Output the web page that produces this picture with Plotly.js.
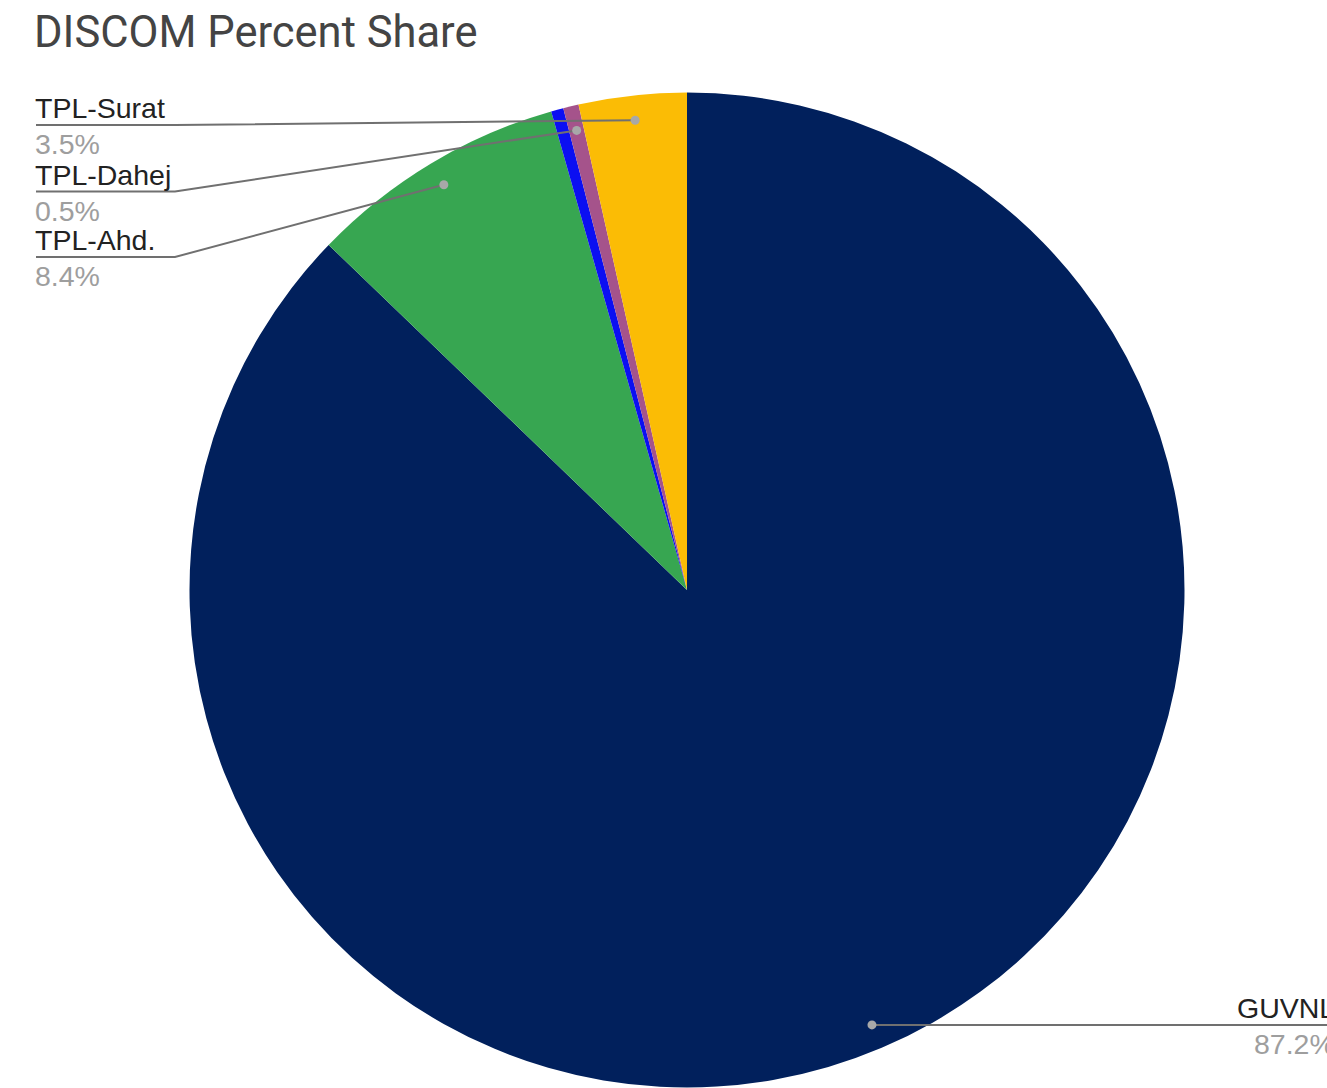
<!DOCTYPE html>
<html>
<head>
<meta charset="utf-8">
<script src="https://cdn.plot.ly/plotly-3.0.1.min.js"></script>
<style>html,body{margin:0;padding:0;background:#fff;}#chart{width:1327px;height:1088px;}</style>
</head>
<body>
<div id="chart"></div>
<script>
// ---- data ----
var labels = ["GUVNL", "TPL-Ahd.", "Others", "TPL-Dahej", "TPL-Surat"];
var values = [87.2, 8.4, 0.4, 0.5, 3.5];
var colors = ["#01205c", "#37a651", "#0b0ff2", "#a5538b", "#fbbc05"];
var showLabel = [true, true, false, true, true];

// ---- layout constants (pixels) ----
var W = 1327, H = 1088;
var cx = 687, cy = 590, R = 497.5;
var leftX = 36, leftKnee = 175;
var leftLineY = [125, 191.5, 257];   // stacked left labels, top to bottom
var rightTextX = 1337;

function px(x){ return x / W; }
function py(y){ return 1 - y / H; }

var total = values.reduce(function(a,b){return a+b;}, 0);
var shapes = [], annotations = [];

// slice mid angles (clockwise from 12 o'clock)
var cum = 0, mids = [];
for (var i = 0; i < values.length; i++) {
  mids.push((cum + values[i] / 2) / total);
  cum += values[i];
}

var leftIdx = [];
for (var i = values.length - 1; i >= 0; i--) {
  if (showLabel[i] && mids[i] > 0.5) leftIdx.push(i);
}
var lineColor = "#707070", dotColor = "#a8a8a8";
var nameFont = {family: "Liberation Sans, Arial, sans-serif", size: 28.5, color: "#222222"};
var pctFont = {family: "Liberation Sans, Arial, sans-serif", size: 28.5, color: "#9e9e9e"};

function dotPos(i) {
  var a = 2 * Math.PI * mids[i];
  return [cx + 0.95 * R * Math.sin(a), cy - 0.95 * R * Math.cos(a)];
}
function addDot(p) {
  shapes.push({type: "circle", xref: "paper", yref: "paper",
    x0: px(p[0] - 4.5), x1: px(p[0] + 4.5), y0: py(p[1] + 4.5), y1: py(p[1] - 4.5),
    fillcolor: dotColor, line: {width: 0}});
}

leftIdx.forEach(function(i, k) {
  var L = leftLineY[k];
  var d = dotPos(i);
  var path = "M" + px(leftX) + "," + py(L) + " L" + px(leftKnee) + "," + py(L) +
             " L" + px(d[0]) + "," + py(d[1]);
  shapes.push({type: "path", xref: "paper", yref: "paper", path: path,
    line: {color: lineColor, width: 2}});
  addDot(d);
  annotations.push({xref: "paper", yref: "paper", x: px(leftX - 3), y: py(L - 17),
    xanchor: "left", yanchor: "middle", showarrow: false, text: labels[i], font: nameFont});
  annotations.push({xref: "paper", yref: "paper", x: px(leftX - 3), y: py(L + 19),
    xanchor: "left", yanchor: "middle", showarrow: false,
    text: (values[i] / total * 100).toFixed(1) + "%", font: pctFont});
});

for (var i = 0; i < values.length; i++) {
  if (!showLabel[i] || mids[i] > 0.5) continue;
  var d = dotPos(i);
  shapes.push({type: "line", xref: "paper", yref: "paper",
    x0: px(d[0]), x1: px(W + 20), y0: py(d[1]), y1: py(d[1]),
    line: {color: lineColor, width: 2}});
  addDot(d);
  annotations.push({xref: "paper", yref: "paper", x: px(rightTextX), y: py(d[1] - 17),
    xanchor: "right", yanchor: "middle", showarrow: false, text: labels[i], font: nameFont});
  annotations.push({xref: "paper", yref: "paper", x: px(rightTextX), y: py(d[1] + 19),
    xanchor: "right", yanchor: "middle", showarrow: false,
    text: (values[i] / total * 100).toFixed(1) + "%", font: pctFont});
}

var trace = {
  type: "pie",
  labels: labels,
  values: values,
  sort: false,
  direction: "clockwise",
  rotation: 0,
  textinfo: "none",
  hoverinfo: "label+percent",
  marker: {colors: colors, line: {width: 0}},
  domain: {x: [px(cx - R), px(cx + R)], y: [py(cy + R), py(cy - R)]},
  showlegend: false
};

var layout = {
  width: W, height: H,
  margin: {l: 0, r: 0, t: 0, b: 0},
  paper_bgcolor: "#ffffff",
  title: {text: "DISCOM Percent Share", x: px(34), xanchor: "left", y: py(32), yanchor: "middle",
          font: {family: "Roboto, sans-serif", size: 43.5, color: "#444444"}},
  shapes: shapes,
  annotations: annotations,
  showlegend: false
};

Plotly.newPlot("chart", [trace], layout, {displayModeBar: false, staticPlot: true});
</script>
</body>
</html>
